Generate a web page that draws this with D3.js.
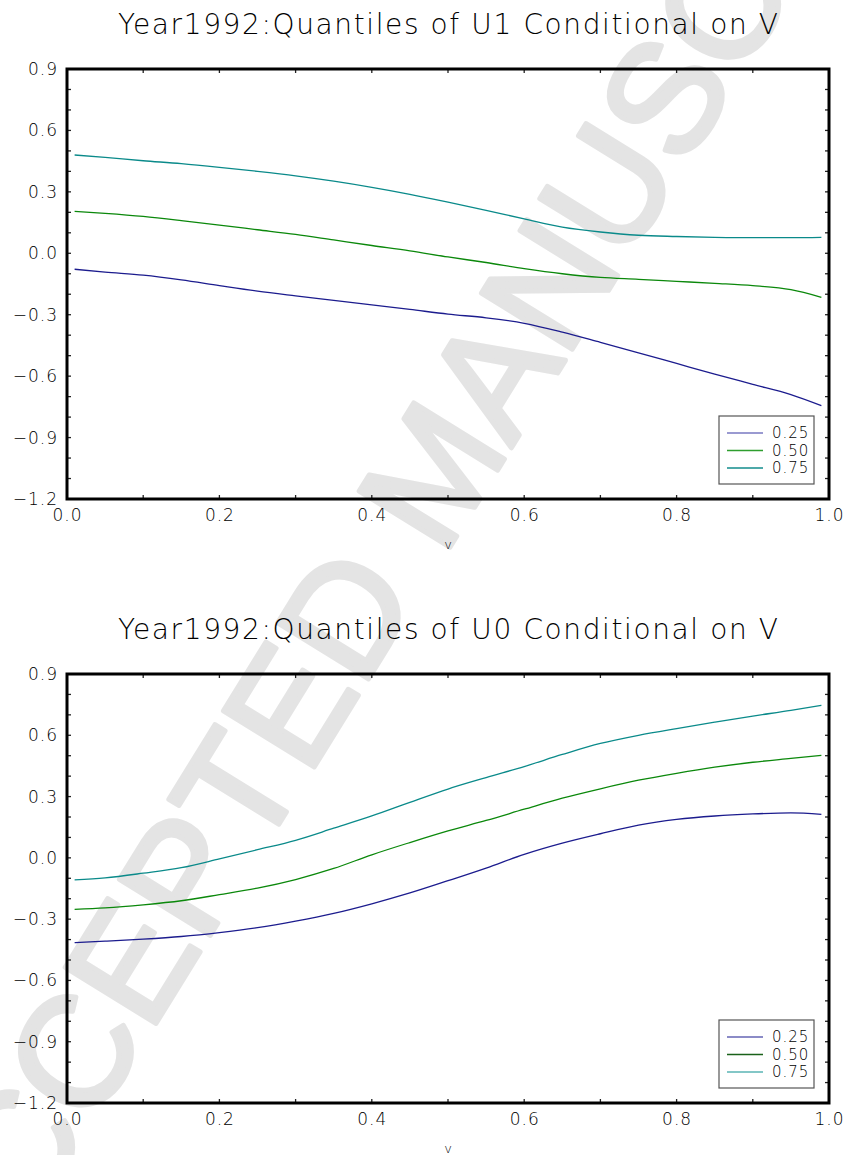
<!DOCTYPE html>
<html><head><meta charset="utf-8">
<script src="https://cdn.jsdelivr.net/npm/d3@7"></script>
<style>body{margin:0;background:#fff} svg{display:block}</style>
</head><body>
<script>
// ---------- data ----------
const vGrid = [0.01,0.05,0.10,0.15,0.20,0.25,0.30,0.35,0.40,0.45,0.50,0.55,0.60,0.65,0.70,0.75,0.80,0.85,0.90,0.95,0.99];

const u1Q25 = [-0.078,-0.092,-0.107,-0.130,-0.158,-0.185,-0.208,-0.230,-0.252,-0.274,-0.297,-0.315,-0.342,-0.385,-0.435,-0.486,-0.538,-0.590,-0.640,-0.690,-0.744];
const u1Q50 = [0.205,0.195,0.180,0.160,0.138,0.115,0.092,0.065,0.038,0.012,-0.018,-0.045,-0.075,-0.100,-0.118,-0.127,-0.137,-0.147,-0.158,-0.178,-0.215];
const u1Q75 = [0.480,0.468,0.452,0.438,0.420,0.400,0.378,0.352,0.322,0.288,0.250,0.210,0.168,0.128,0.104,0.088,0.082,0.078,0.076,0.076,0.078];

const u0Q25 = [-0.415,-0.408,-0.398,-0.385,-0.366,-0.342,-0.310,-0.272,-0.225,-0.172,-0.112,-0.050,0.017,0.072,0.118,0.160,0.188,0.205,0.215,0.220,0.213];
const u0Q50 = [-0.252,-0.245,-0.230,-0.210,-0.180,-0.148,-0.106,-0.052,0.015,0.075,0.132,0.183,0.238,0.292,0.338,0.380,0.414,0.444,0.468,0.487,0.502];
const u0Q75 = [-0.108,-0.098,-0.075,-0.048,-0.005,0.040,0.086,0.145,0.205,0.272,0.337,0.393,0.447,0.506,0.560,0.600,0.633,0.664,0.694,0.722,0.747];

const quantileLabels = ["0.25","0.50","0.75"];
const xTickValues = [0.0,0.2,0.4,0.6,0.8,1.0];
const yTickValues = [-1.2,-0.9,-0.6,-0.3,0.0,0.3,0.6,0.9];
const xMinorTicks = [0,0.1,0.2,0.3,0.4,0.5,0.6,0.7,0.8,0.9,1.0];
const yMinorTicks = [-1.2,-1.1,-1.0,-0.9,-0.8,-0.7,-0.6,-0.5,-0.4,-0.3,-0.2,-0.1,0,0.1,0.2,0.3,0.4,0.5,0.6,0.7,0.8,0.9];
const titles = ["Year1992:Quantiles of U1 Conditional on V","Year1992:Quantiles of U0 Conditional on V"];
const xLabel = "v";
const watermark = "ACCEPTED MANUSCRIPT";

// ---------- drawing ----------
const W = 848, H = 1155;
const FONT = "'DejaVu Sans', sans-serif";
const svg = d3.select("body").append("svg").attr("width", W).attr("height", H);

// watermark (diagonal, light grey, runs off the page like the reference)
svg.append("text")
  .attr("transform", "translate(432,470) rotate(-58.3)")
  .attr("text-anchor", "middle").attr("dy", "0.36em")
  .attr("font-family", "'Liberation Sans', Arial, sans-serif")
  .attr("font-size", 155)
  .attr("fill", "#e4e4e4").attr("stroke", "#e4e4e4").attr("stroke-width", 5)
  .attr("stroke-linejoin", "round")
  .text(watermark);

const lineColors = ["#1c1c8e", "#0b880b", "#0a8a8a"];
const legendColorsTop = ["#7878c2", "#2e9e2e", "#128c8c"];
const legendColorsBot = ["#6464b4", "#1a621a", "#5ab4b4"];

function panel(cfg) {
  const {top, bottom, title, series, legendColors} = cfg;
  const left = 67, right = 829;
  const x = d3.scaleLinear().domain([0, 1]).range([left, right]);
  const y = d3.scaleLinear().domain([-1.2, 0.9]).range([bottom, top]);
  const g = svg.append("g");

  // title
  g.append("text").attr("x", (left + right) / 2).attr("y", top - 35)
    .attr("text-anchor", "middle").attr("font-family", FONT).attr("font-weight", 200)
    .attr("font-size", 28).attr("fill", "#000")
    .attr("textLength", 660).attr("lengthAdjust", "spacing")
    .text(title);

  // lines
  const line = d3.line().x((d, i) => x(vGrid[i])).y(d => y(d)).curve(d3.curveMonotoneX);
  series.forEach((s, k) => {
    g.append("path").attr("d", line(s)).attr("fill", "none")
      .attr("stroke", lineColors[k]).attr("stroke-width", 1.3);
  });

  // ticks (inward) on all four sides
  const tl = 4;
  const tg = g.append("g").attr("stroke", "#222").attr("stroke-width", 1.3);
  xMinorTicks.forEach(t => {
    tg.append("line").attr("x1", x(t)).attr("x2", x(t)).attr("y1", bottom).attr("y2", bottom - tl);
    tg.append("line").attr("x1", x(t)).attr("x2", x(t)).attr("y1", top).attr("y2", top + tl);
  });
  yMinorTicks.forEach(t => {
    tg.append("line").attr("y1", y(t)).attr("y2", y(t)).attr("x1", left).attr("x2", left + tl);
    tg.append("line").attr("y1", y(t)).attr("y2", y(t)).attr("x1", right).attr("x2", right - tl);
  });

  // frame
  g.append("rect").attr("x", left).attr("y", top).attr("width", right - left).attr("height", bottom - top)
    .attr("fill", "none").attr("stroke", "#000").attr("stroke-width", 3);

  // tick labels via d3 axes
  const xAxis = d3.axisBottom(x).tickValues(xTickValues).tickSize(0).tickPadding(10)
    .tickFormat(d3.format(".1f"));
  const xa = g.append("g").attr("transform", `translate(0,${bottom})`).call(xAxis);
  xa.select(".domain").remove();
  xa.selectAll("text").attr("font-family", FONT).attr("font-weight", 200).attr("font-size", 17)
    .attr("fill", "#000").attr("letter-spacing", 1);

  const yAxis = d3.axisLeft(y).tickValues(yTickValues).tickSize(0).tickPadding(9)
    .tickFormat(d => d3.format(".1f")(d).replace("-", "\u2212"));
  const ya = g.append("g").attr("transform", `translate(${left},0)`).call(yAxis);
  ya.select(".domain").remove();
  ya.selectAll("text").attr("font-family", FONT).attr("font-weight", 200).attr("font-size", 17)
    .attr("fill", "#000").attr("letter-spacing", 1);

  g.append("text").attr("x", 448).attr("y", bottom + 50).attr("text-anchor", "middle")
    .attr("font-family", FONT).attr("font-weight", 200).attr("font-size", 13).attr("fill", "#000")
    .text(xLabel);

  // legend
  const lx = 719, lw = 95, lh = 68, ly = bottom - 15 - lh;
  const lg = g.append("g");
  lg.append("rect").attr("x", lx).attr("y", ly).attr("width", lw).attr("height", lh)
    .attr("fill", "#fff").attr("stroke", "#555").attr("stroke-width", 1.2);
  quantileLabels.forEach((lab, k) => {
    const yy = ly + 17 + k * 17.5;
    lg.append("line").attr("x1", lx + 8).attr("x2", lx + 44).attr("y1", yy).attr("y2", yy)
      .attr("stroke", legendColors[k]).attr("stroke-width", 1.5);
    lg.append("text").attr("x", lx + 53).attr("y", yy).attr("dy", "0.36em")
      .attr("font-family", FONT).attr("font-weight", 200).attr("font-size", 15)
      .attr("fill", "#000").attr("letter-spacing", 1).text(lab);
  });
}

panel({top: 69, bottom: 499, title: titles[0], series: [u1Q25, u1Q50, u1Q75], legendColors: legendColorsTop});
panel({top: 674, bottom: 1103, title: titles[1], series: [u0Q25, u0Q50, u0Q75], legendColors: legendColorsBot});
</script>
</body></html>
